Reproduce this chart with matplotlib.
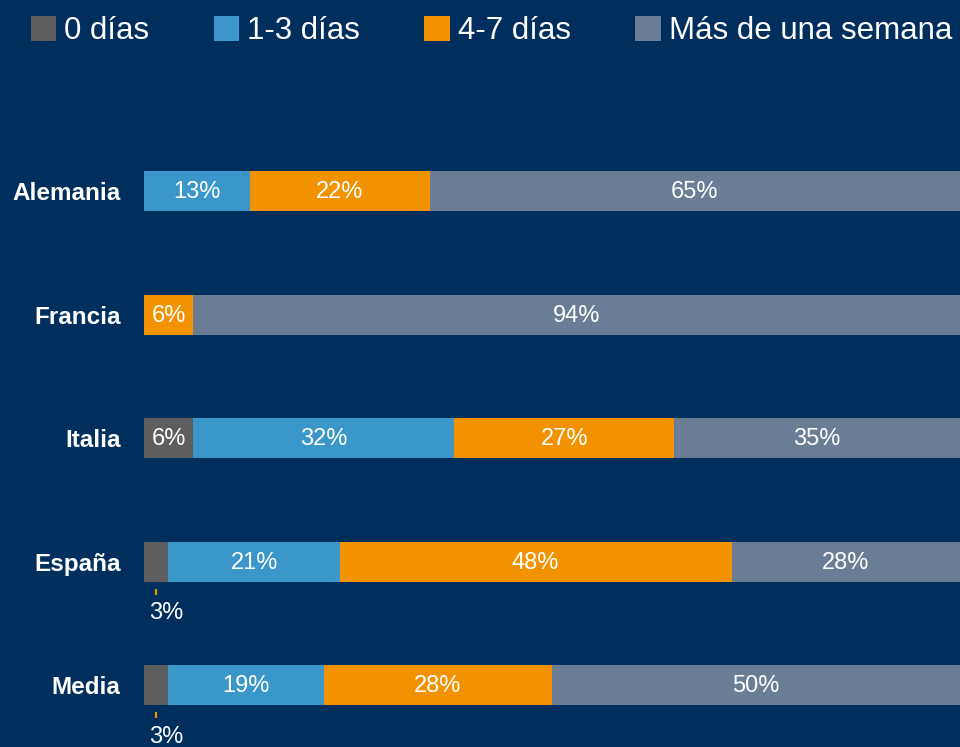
import numpy as np
import matplotlib.pyplot as plt

plt.rcParams['font.family'] = ['Liberation Sans', 'DejaVu Sans']

# data
paises = ['Alemania', 'Francia', 'Italia', 'España', 'Media']
series = ['0 días', '1-3 días', '4-7 días', 'Más de una semana']
cero = [0, 0, 6, 3, 3]
uno_tres = [13, 0, 32, 21, 19]
cuatro_siete = [22, 6, 27, 48, 28]
semana = [65, 94, 35, 28, 50]

colores = ['#5e5e5e', '#3b96c9', '#f39200', '#6a7d94']
fondo = '#002f5d'

valores = np.array([cero, uno_tres, cuatro_siete, semana], dtype=float)
y = np.arange(len(paises))
alto = 0.324

fig = plt.figure(figsize=(9.6, 7.47), dpi=100, facecolor=fondo)
ax = fig.add_axes([0.15, 0.0003, 0.85, 617.5 / 747])
ax.set_facecolor(fondo)

izq = np.zeros(len(paises))
handles = []
for i, nombre in enumerate(series):
    b = ax.barh(y, valores[i], left=izq, height=alto, color=colores[i],
                label=nombre, linewidth=0)
    handles.append(b)
    for j, v in enumerate(valores[i]):
        if v == 0:
            continue
        if v < 5:
            # valor pequeño: etiqueta debajo de la barra con marca
            xc = izq[j] + v / 2
            ax.plot([xc, xc], [y[j] + 0.219, y[j] + 0.267], color='#f39200',
                    lw=1.6, solid_capstyle='butt')
            ax.text(izq[j] + 0.6, y[j] + 0.42, f'{v:.0f}%', color='white',
                    fontsize=17, ha='left', va='center')
        else:
            ax.text(izq[j] + v / 2, y[j] + 0.01, f'{v:.0f}%', color='white',
                    fontsize=17, ha='center', va='center')
    izq += valores[i]

ax.set_xlim(0, 100)
ax.set_ylim(4.5, -0.5)
ax.set_yticks(y)
ax.set_yticklabels(paises, fontsize=17.5, fontweight='bold', color='white')
ax.tick_params(axis='y', length=0, pad=17)
ax.set_xticks([])
for s in ax.spines.values():
    s.set_visible(False)

fig.legend(handles=handles, labels=series, loc='upper left',
           bbox_to_anchor=(0.019, 0.995), ncol=4, frameon=False,
           fontsize=22.5, labelcolor='white', handlelength=0.82,
           handleheight=0.82, handletextpad=0.26, columnspacing=2.05,
           borderaxespad=0)

fig.savefig('out.png', dpi=100, facecolor=fondo)
